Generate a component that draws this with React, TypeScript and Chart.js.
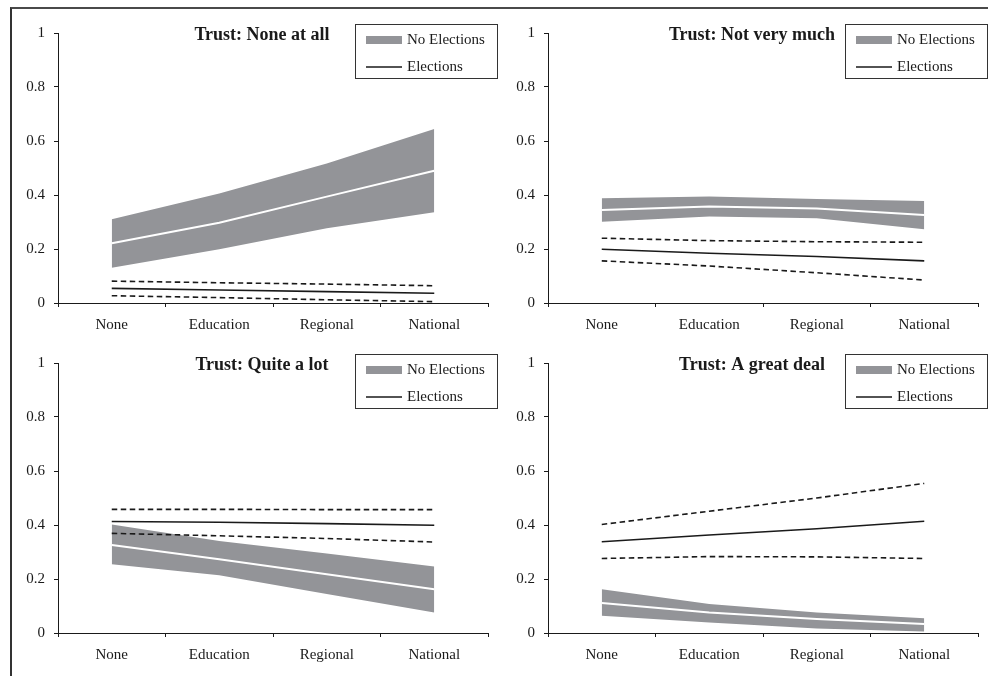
import React, { useEffect, useRef } from "react";
import { Chart, registerables } from "chart.js";

Chart.register(...registerables);

const categories = ["None", "Education", "Regional", "National"];
const panelTitles = [
  "Trust: None at all",
  "Trust: Not very much",
  "Trust: Quite a lot",
  "Trust: A great deal",
];
const legendLabels = ["No Elections", "Elections"];
const yTickValues = [0, 0.2, 0.4, 0.6, 0.8, 1];

// Panel 1: None at all
const noneAtAllBandHigh = [0.31, 0.406, 0.517, 0.644];
const noneAtAllBandMid = [0.221, 0.297, 0.394, 0.49];
const noneAtAllBandLow = [0.131, 0.199, 0.277, 0.336];
const noneAtAllElecHigh = [0.081, 0.075, 0.07, 0.064];
const noneAtAllElecMid = [0.054, 0.048, 0.042, 0.036];
const noneAtAllElecLow = [0.027, 0.02, 0.012, 0.005];

// Panel 2: Not very much
const notMuchBandHigh = [0.388, 0.394, 0.385, 0.378];
const notMuchBandMid = [0.344, 0.357, 0.35, 0.326];
const notMuchBandLow = [0.301, 0.32, 0.314, 0.273];
const notMuchElecHigh = [0.24, 0.231, 0.227, 0.225];
const notMuchElecMid = [0.199, 0.184, 0.172, 0.156];
const notMuchElecLow = [0.156, 0.137, 0.112, 0.085];

// Panel 3: Quite a lot
const quiteBandHigh = [0.402, 0.341, 0.294, 0.246];
const quiteBandMid = [0.326, 0.273, 0.218, 0.162];
const quiteBandLow = [0.255, 0.214, 0.144, 0.076];
const quiteElecHigh = [0.458, 0.458, 0.457, 0.457];
const quiteElecMid = [0.413, 0.41, 0.405, 0.399];
const quiteElecLow = [0.369, 0.36, 0.35, 0.337];

// Panel 4: A great deal
const greatBandHigh = [0.162, 0.107, 0.076, 0.055];
const greatBandMid = [0.111, 0.076, 0.052, 0.033];
const greatBandLow = [0.064, 0.039, 0.017, 0.006];
const greatElecHigh = [0.402, 0.451, 0.5, 0.554];
const greatElecMid = [0.338, 0.363, 0.386, 0.414];
const greatElecLow = [0.276, 0.283, 0.282, 0.276];

const panels = [
  { title: panelTitles[0], bandHigh: noneAtAllBandHigh, bandMid: noneAtAllBandMid, bandLow: noneAtAllBandLow, elecHigh: noneAtAllElecHigh, elecMid: noneAtAllElecMid, elecLow: noneAtAllElecLow },
  { title: panelTitles[1], bandHigh: notMuchBandHigh, bandMid: notMuchBandMid, bandLow: notMuchBandLow, elecHigh: notMuchElecHigh, elecMid: notMuchElecMid, elecLow: notMuchElecLow },
  { title: panelTitles[2], bandHigh: quiteBandHigh, bandMid: quiteBandMid, bandLow: quiteBandLow, elecHigh: quiteElecHigh, elecMid: quiteElecMid, elecLow: quiteElecLow },
  { title: panelTitles[3], bandHigh: greatBandHigh, bandMid: greatBandMid, bandLow: greatBandLow, elecHigh: greatElecHigh, elecMid: greatElecMid, elecLow: greatElecLow },
];

const FONT = "'Liberation Serif', 'Times New Roman', serif";
const GRAY = "#939498";
const INK = "#1a1a1a";
const CANVAS_W = 490;
const CANVAS_H = 345;

const panelDecor = {
  id: "panelDecor",
  afterDraw(chart: any, _args: any, opts: any) {
    const { ctx, chartArea } = chart;
    ctx.save();
    // title
    ctx.fillStyle = INK;
    ctx.font = `bold 18px ${FONT}`;
    ctx.textAlign = "center";
    ctx.textBaseline = "middle";
    ctx.fillText(opts.title, chartArea.left + 204, chartArea.top + 2);
    // legend box
    const bx = chartArea.right - 133;
    const by = chartArea.top - 9;
    const bw = 142;
    const bh = 54;
    ctx.fillStyle = "#ffffff";
    ctx.fillRect(bx, by, bw, bh);
    ctx.strokeStyle = "#333333";
    ctx.lineWidth = 1;
    ctx.strokeRect(bx + 0.5, by + 0.5, bw, bh);
    ctx.fillStyle = GRAY;
    ctx.fillRect(bx + 11, by + 12, 36, 8);
    ctx.strokeStyle = INK;
    ctx.lineWidth = 1.5;
    ctx.beginPath();
    ctx.moveTo(bx + 11, by + 43);
    ctx.lineTo(bx + 47, by + 43);
    ctx.stroke();
    ctx.fillStyle = INK;
    ctx.font = `15px ${FONT}`;
    ctx.textAlign = "left";
    ctx.fillText(legendLabels[0], bx + 52, by + 16);
    ctx.fillText(legendLabels[1], bx + 52, by + 43);
    ctx.restore();
  },
};

function Panel({ panel, left, top }: any) {
  const ref = useRef<HTMLCanvasElement | null>(null);
  useEffect(() => {
    if (!ref.current) return;
    const lineBase = { pointRadius: 0, tension: 0, fill: false };
    const chart = new Chart(ref.current, {
      type: "line",
      data: {
        labels: categories,
        datasets: [
          { ...lineBase, data: panel.bandHigh, borderWidth: 0, borderColor: "rgba(0,0,0,0)", backgroundColor: GRAY, fill: "+1" },
          { ...lineBase, data: panel.bandLow, borderWidth: 0, borderColor: "rgba(0,0,0,0)" },
          { ...lineBase, data: panel.bandMid, borderWidth: 2, borderColor: "#ffffff" },
          { ...lineBase, data: panel.elecHigh, borderWidth: 1.6, borderColor: INK, borderDash: [5.5, 3.5] },
          { ...lineBase, data: panel.elecMid, borderWidth: 1.6, borderColor: INK },
          { ...lineBase, data: panel.elecLow, borderWidth: 1.6, borderColor: INK, borderDash: [5.5, 3.5] },
        ],
      } as any,
      options: {
        responsive: false,
        animation: false,
        events: [],
        layout: { padding: { left: 0, right: 12, top: 33, bottom: 0 } },
        plugins: {
          legend: { display: false },
          title: { display: false },
          tooltip: { enabled: false },
          filler: { drawTime: "beforeDatasetsDraw" },
          panelDecor: { title: panel.title },
        } as any,
        scales: {
          x: {
            type: "category",
            offset: true,
            grid: { offset: true, drawOnChartArea: false, drawTicks: true, tickLength: 4, color: INK },
            border: { display: true, color: INK, width: 1 },
            ticks: { font: { family: FONT, size: 15 }, color: INK, padding: 9, maxRotation: 0 },
            afterFit: (s: any) => { s.height = 42; },
          },
          y: {
            min: 0,
            max: 1,
            afterBuildTicks: (s: any) => { s.ticks = yTickValues.map((v) => ({ value: v })); },
            grid: { drawOnChartArea: false, drawTicks: true, tickLength: 4, color: INK },
            border: { display: true, color: INK, width: 1 },
            ticks: { font: { family: FONT, size: 15 }, color: INK, padding: 9, callback: (v: any) => String(Math.round(v * 10) / 10) },
            afterFit: (s: any) => { s.width = 48; },
          },
        },
      } as any,
      plugins: [panelDecor],
    });
    return () => chart.destroy();
  }, [panel]);
  return (
    <canvas
      ref={ref}
      width={CANVAS_W}
      height={CANVAS_H}
      style={{ position: "absolute", left, top, width: CANVAS_W, height: CANVAS_H, display: "block" }}
    />
  );
}

export default function App() {
  return (
    <div style={{ position: "fixed", left: 0, top: 0, width: 992, height: 676, background: "#ffffff", overflow: "hidden" }}>
      <div
        style={{
          position: "absolute",
          left: 10,
          top: 7,
          width: 978,
          height: 720,
          borderTop: "2px solid #4a4a4a",
          borderLeft: "2px solid #333333",
          boxSizing: "border-box",
        }}
      />
      {panels.map((p, i) => (
        <Panel key={i} panel={p} left={10 + (i % 2) * 490} top={Math.floor(i / 2) * 330} />
      ))}
    </div>
  );
}
